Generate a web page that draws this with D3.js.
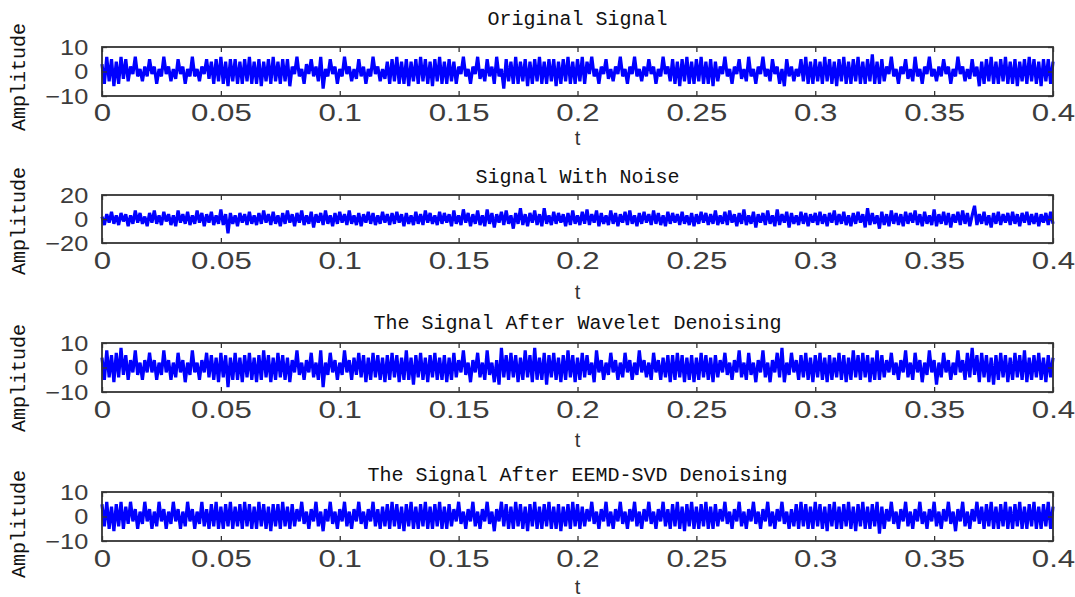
<!DOCTYPE html>
<html>
<head>
<meta charset="utf-8">
<script src="https://cdn.jsdelivr.net/npm/d3@7"></script>
<style>
  body { margin: 0; background: #fff; }
  svg { display: block; }
</style>
</head>
<body>
<div id="canvas"></div>
<script>
// panel titles and axis ticks
const titles = ["Original Signal", "Signal With Noise", "The Signal After Wavelet Denoising", "The Signal After EEMD-SVD Denoising"];
const xTicks = [0, 0.05, 0.1, 0.15, 0.2, 0.25, 0.3, 0.35, 0.4];
const yTicks = [[-10, 0, 10], [-20, 0, 20], [-10, 0, 10], [-10, 0, 10]];
const tEnd = 0.4;

// signal samples (one per ~1 ms)
const original = [
  3,-5,6,-4,5,-6,4,-5,6,-3,5,-4,2,-1,6,-2,1,-4,2,-2,
  5,-1,2,-5,1,-2,6,-1,2,-4,1,-3,5,-1,2,-5,1,-2,6,-2,
  1,-4,2,-1,5,-3,4,-5,5,-4,6,-5,4,-6,5,-4,5,-5,4,-5,
  5,-4,6,-5,4,-5,5,-6,4,-4,5,-5,6,-4,4,-5,5,-4,5,-6,
  2,-1,6,-2,1,-5,3,-1,5,-2,2,-4,6,-7,1,-2,5,-1,2,-5,
  1,-2,6,-1,2,-4,1,-3,5,-2,2,-5,1,-2,6,-1,2,-4,1,-3,
  4,-5,5,-4,6,-5,4,-5,5,-6,4,-4,5,-5,6,-4,5,-5,4,-6,
  5,-4,6,-5,4,-5,5,-4,4,-5,2,-1,6,-2,1,-5,2,-1,6,-3,
  1,-4,5,-2,2,-5,6,-2,1,-7,5,-4,4,-5,6,-5,4,-4,5,-6,
  4,-5,5,-4,6,-5,4,-5,5,-4,5,-6,4,-5,5,-4,6,-5,4,-5,
  5,-4,6,-5,4,-1,6,-2,1,-5,2,-1,5,-3,1,-4,2,-1,6,-2,
  1,-5,2,-1,6,-2,1,-4,2,-2,5,-1,2,-5,1,-2,6,-1,2,-4,
  5,-5,4,-6,5,-4,6,-5,4,-5,5,-4,6,-5,4,-5,5,-6,4,-4,
  2,-1,6,-2,1,-5,2,-1,5,-3,1,-4,6,-2,1,-5,2,-1,6,-2,
  1,-4,5,-1,2,-5,1,-6,5,-2,2,-4,1,-2,5,-4,6,-5,4,-5,
  5,-4,4,-5,6,-4,5,-5,4,-6,5,-4,6,-5,4,-5,5,-4,6,-5,
  4,-5,5,-4,7,-5,4,-5,5,-4,2,-1,6,-2,1,-5,2,-1,5,-3,
  1,-4,6,-2,1,-5,2,-1,6,-2,1,-4,2,-2,5,-1,2,-5,1,-2,
  6,-1,2,-4,1,-3,5,-2,2,-6,4,-5,5,-4,6,-5,4,-5,5,-4,
  6,-5,4,-5,5,-6,4,-4,5,-5,6,-4,5,-5,4,-6,5,-4,5,-5,4
];
const noisy = [
  2,-5,4,-3,6,-4,3,-5,5,-2,4,-6,3,-4,7,-3,5,-4,2,-6,
  5,-3,7,-4,3,-5,6,-2,4,-5,3,-6,7,-3,4,-4,6,-5,3,-4,
  7,-3,5,-6,4,-3,6,-5,3,-4,8,-5,4,-12,5,-4,3,-6,5,-3,
  4,-5,6,-4,3,-5,5,-4,7,-3,4,-5,6,-4,3,-6,5,-4,7,-3,
  4,-6,5,-3,7,-5,3,-4,6,-7,4,-3,5,-5,7,-4,3,-6,5,-4,
  6,-3,4,-5,7,-4,3,-5,5,-6,4,-3,6,-4,5,-5,3,-4,6,-3,
  4,-5,5,-4,6,-3,4,-6,5,-4,3,-5,6,-4,4,-5,7,-3,5,-4,
  3,-5,6,-4,5,-3,4,-6,7,-4,3,-5,8,-3,5,-6,4,-4,7,-5,
  3,-6,8,-4,5,-7,4,-3,6,-5,7,-4,3,-8,5,-4,9,-5,4,-6,
  5,-3,7,-5,4,-6,9,-4,3,-5,6,-4,5,-3,4,-6,5,-5,7,-4,
  3,-5,6,-4,8,-5,4,-3,7,-6,5,-4,3,-5,7,-4,5,-6,4,-3,
  6,-5,7,-4,3,-6,5,-4,6,-3,4,-5,7,-4,5,-5,3,-6,6,-4,
  5,-3,4,-5,6,-4,3,-5,5,-6,4,-4,6,-3,5,-5,4,-4,7,-5,
  3,-4,6,-5,7,-3,4,-6,5,-4,8,-5,3,-4,6,-7,4,-3,5,-5,
  7,-4,3,-6,8,-5,4,-3,6,-7,5,-4,3,-5,6,-4,5,-6,4,-3,
  5,-5,6,-4,4,-6,5,-3,7,-5,4,-4,6,-5,3,-6,5,-4,6,-3,
  4,-7,9,-5,5,-4,3,-8,6,-5,4,-6,7,-4,5,-5,4,-6,6,-4,
  5,-3,7,-5,4,-6,6,-4,3,-5,8,-6,4,-4,6,-5,5,-7,4,-3,
  6,-5,7,-4,5,-6,3,11,-5,4,-4,6,-5,3,-7,5,-4,6,-5,4,
  -3,5,-5,6,-4,4,-6,5,-3,6,-5,4,-4,5,-6,4,-3,5,-5,6,-4
];
const wavelet = [
  4,-5,7,-4,5,-6,6,-4,8,-3,5,-5,3,-2,7,-3,2,-5,3,-2,
  6,-2,3,-5,2,-3,7,-2,3,-5,2,-4,6,-2,3,-6,2,-3,7,-2,
  2,-5,3,-2,6,-4,5,-5,4,-6,6,-4,5,-8,4,-5,6,-5,4,-6,
  5,-4,6,-5,4,-6,5,-5,7,-4,5,-6,4,-5,6,-4,5,-5,4,-6,
  3,-2,7,-3,2,-5,3,-2,6,-4,2,-5,7,-8,2,-3,6,-2,3,-5,
  2,-3,7,-2,3,-5,4,-3,6,-4,5,-6,4,-5,6,-4,5,-5,4,-6,
  5,-5,6,-4,5,-6,4,-5,7,-5,4,-7,5,-4,6,-5,4,-6,5,-4,
  6,-5,4,-5,5,-6,4,-5,6,-4,3,-2,7,-3,2,-6,3,-2,6,-4,
  2,-5,7,-3,2,-6,3,-7,8,-4,5,-5,6,-4,5,-6,4,-5,7,-4,
  5,-6,8,-5,4,-5,6,-7,5,-4,6,-5,4,-6,5,-5,7,-4,5,-6,
  4,-5,6,-4,5,-3,2,-6,7,-2,3,-5,2,-3,6,-2,3,-5,2,-4,
  6,-2,3,-5,2,-3,7,-2,3,-4,2,-5,6,-2,3,-5,4,-4,5,-6,
  5,-5,6,-4,5,-6,4,-5,5,-6,4,-5,6,-4,5,-5,4,-6,5,-4,
  3,-2,6,-3,2,-5,3,-2,7,-4,2,-5,6,-3,2,-6,3,-2,7,-4,
  2,-6,3,-2,6,-4,8,-6,2,-3,6,-2,3,-5,5,-4,6,-5,4,-6,
  5,-4,6,-5,4,-6,5,-5,4,-4,6,-5,5,-6,4,-5,7,-4,5,-5,
  6,-4,5,-6,4,-5,7,-5,5,-4,3,-2,6,-3,2,-5,3,-2,7,-4,
  2,-5,6,-2,3,-6,2,-3,7,-2,3,-7,2,-4,6,-2,3,-5,2,-3,
  7,-2,3,-5,6,-4,8,-3,5,-6,6,-4,5,-6,4,-7,5,-5,6,-4,
  5,-6,4,-5,6,-4,5,-5,7,-6,4,-5,5,-4,6,-5,4,-6,5,-4,4
];
const eemdSvd = [
  5,-4,6,-5,4,-6,5,-4,6,-5,4,-3,6,-2,3,-5,2,-3,6,-2,
  3,-5,2,-4,6,-2,3,-5,2,-3,6,-2,3,-5,2,-4,6,-2,3,-5,
  2,-3,6,-4,3,-5,5,-4,6,-5,4,-5,5,-4,6,-5,4,-4,5,-5,
  6,-4,5,-5,4,-5,6,-4,5,-5,4,-6,5,-4,5,-5,6,-4,4,-5,
  5,-4,3,-2,6,-3,2,-5,3,-2,6,-4,2,-6,3,-2,6,-3,2,-5,
  3,-2,6,-4,2,-5,3,-2,6,-3,2,-5,3,-2,6,-4,3,-5,4,-4,
  5,-5,6,-4,5,-5,4,-6,5,-4,6,-5,4,-5,5,-4,6,-5,4,-5,
  5,-4,6,-5,4,-5,5,-4,3,-2,6,-3,2,-5,3,-2,6,-4,2,-5,
  3,-2,6,-3,2,-6,3,-2,6,-4,5,-5,4,-5,6,-4,5,-5,4,-6,
  5,-4,6,-5,4,-5,5,-4,6,-5,4,-5,5,-6,4,-4,5,-5,6,-4,
  5,-5,4,-4,3,-2,6,-3,2,-5,3,-2,6,-4,2,-5,3,-2,6,-3,
  2,-5,3,-2,6,-4,2,-5,3,-2,6,-3,2,-5,3,-2,6,-4,3,-5,
  5,-4,6,-5,4,-6,5,-4,6,-5,4,-5,5,-4,6,-5,4,-5,5,-4,
  3,-2,6,-3,2,-5,3,-2,6,-4,2,-5,3,-2,6,-3,2,-5,3,-2,
  6,-4,2,-5,3,-2,6,-3,2,-5,3,-4,5,-5,6,-4,5,-5,4,-5,
  6,-4,5,-5,4,-6,5,-4,6,-5,4,-5,5,-4,6,-5,4,-6,5,-4,
  6,-5,4,-5,5,-4,6,-7,4,-5,3,-2,6,-3,2,-5,3,-2,6,-4,
  2,-5,3,-2,6,-3,2,-5,3,-2,6,-4,2,-5,3,-2,6,-3,2,-6,
  3,-2,6,-4,2,-5,3,-2,6,-3,4,-5,5,-4,6,-5,4,-5,5,-4,
  6,-5,4,-5,5,-4,6,-5,4,-5,5,-4,6,-5,4,-5,5,-4,6,-5,4
];
const series = [original, noisy, wavelet, eemdSvd];

const width = 1075, height = 597;
const left = 102, right = 1053;
// per panel box and text positions
const panels = [
  { top: 47,  bottom: 96,  titleY: 18,  tY: 138, labelY: 77,  pad: 8 },
  { top: 195, bottom: 243, titleY: 176, tY: 292, labelY: 221, pad: 9 },
  { top: 343, bottom: 392, titleY: 322, tY: 440, labelY: 378, pad: 9 },
  { top: 492, bottom: 541, titleY: 474, tY: 587, labelY: 524, pad: 9 }
];

const svg = d3.select("#canvas").append("svg")
  .attr("width", width)
  .attr("height", height);

const x = d3.scaleLinear().domain([0, tEnd]).range([left, right]);
const fmt = d => String(+d.toFixed(2));

panels.forEach((p, k) => {
  const vals = series[k];
  const yd = yTicks[k];
  const y = d3.scaleLinear().domain([yd[0], yd[2]]).range([p.bottom, p.top]);
  const g = svg.append("g");

  // signal
  const line = d3.line()
    .x((d, i) => x(i * tEnd / (vals.length - 1)))
    .y(d => y(d));
  g.append("path")
    .datum(vals)
    .attr("fill", "none")
    .attr("stroke", "#0000ff")
    .attr("stroke-width", 3.2)
    .attr("stroke-linejoin", "bevel")
    .attr("d", line);

  // axes, ticks pointing inward
  const xb = g.append("g")
    .attr("transform", `translate(0,${p.bottom})`)
    .call(d3.axisBottom(x).tickValues(xTicks).tickFormat(fmt).tickSizeInner(-5).tickSizeOuter(0).tickPadding(p.pad));
  g.append("g")
    .attr("transform", `translate(0,${p.top})`)
    .call(d3.axisTop(x).tickValues(xTicks).tickFormat("").tickSizeInner(-5).tickSizeOuter(0));
  const yl = g.append("g")
    .attr("transform", `translate(${left},0)`)
    .call(d3.axisLeft(y).tickValues(yd).tickSizeInner(-5).tickSizeOuter(0).tickPadding(12));
  g.append("g")
    .attr("transform", `translate(${right},0)`)
    .call(d3.axisRight(y).tickValues(yd).tickFormat("").tickSizeInner(-5).tickSizeOuter(0));

  g.selectAll(".domain").remove();
  g.selectAll(".tick line").attr("stroke", "#333").attr("stroke-width", 1.3);
  xb.selectAll("text")
    .attr("fill", "#3c3c3c")
    .style("font-family", "'Liberation Sans', Arial, sans-serif")
    .style("font-size", "24px")
    .attr("transform", "scale(1.3,1)");
  yl.selectAll("text")
    .attr("fill", "#3c3c3c")
    .style("font-family", "'Liberation Sans', Arial, sans-serif")
    .style("font-size", "22px")
    .attr("transform", "scale(1.15,1)");

  // box
  g.append("rect")
    .attr("x", left).attr("y", p.top)
    .attr("width", right - left).attr("height", p.bottom - p.top)
    .attr("fill", "none")
    .attr("stroke", "#333")
    .attr("stroke-width", 1.8);

  // title
  svg.append("text")
    .attr("x", (left + right) / 2)
    .attr("y", p.titleY)
    .attr("dy", "0.35em")
    .attr("text-anchor", "middle")
    .style("font-family", "'Liberation Mono', monospace")
    .style("font-size", "20px")
    .attr("fill", "#111")
    .text(titles[k]);

  // x label
  svg.append("text")
    .attr("x", (left + right) / 2)
    .attr("y", p.tY)
    .attr("dy", "0.35em")
    .attr("text-anchor", "middle")
    .style("font-family", "'Liberation Sans', Arial, sans-serif")
    .style("font-size", "20px")
    .attr("fill", "#333")
    .text("t");

  // y label
  svg.append("text")
    .attr("transform", `translate(18,${p.labelY}) rotate(-90)`)
    .attr("dy", "0.35em")
    .attr("text-anchor", "middle")
    .style("font-family", "'Liberation Mono', monospace")
    .style("font-size", "20px")
    .attr("fill", "#111")
    .text("Amplitude");
});
</script>
</body>
</html>
